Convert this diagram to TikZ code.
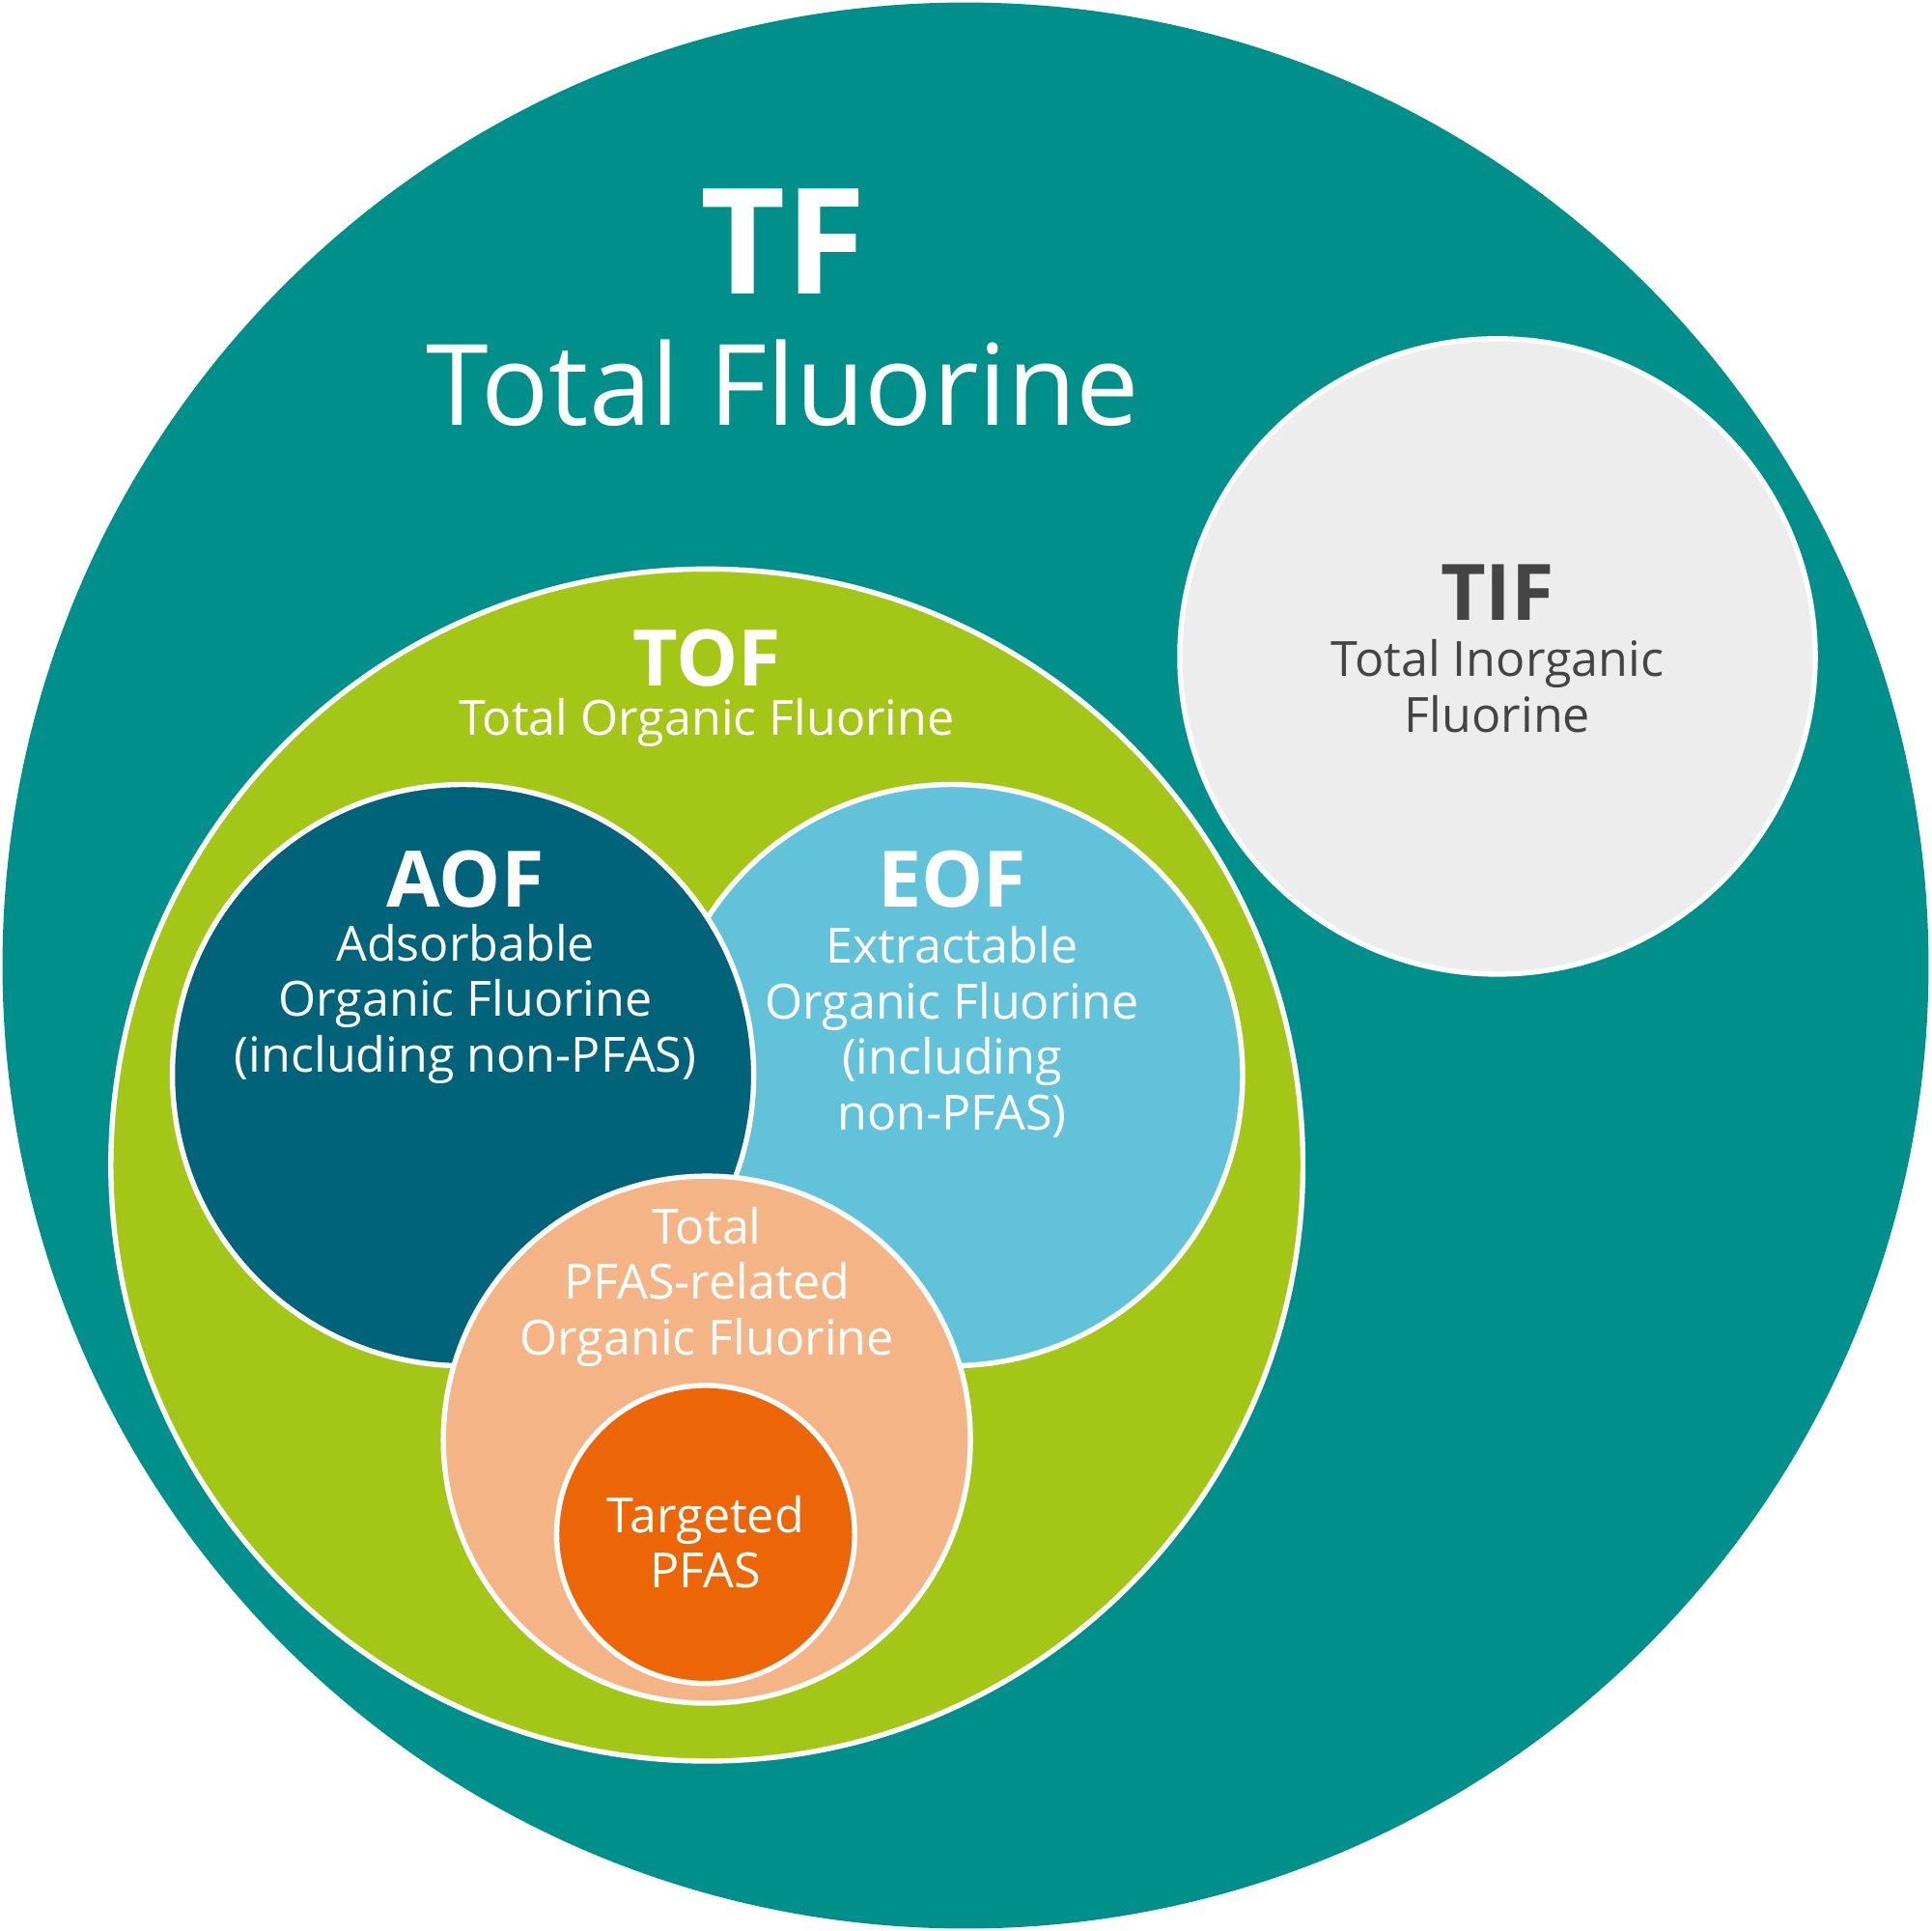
\documentclass[tikz,border=0pt]{standalone}
\usepackage{fontspec}
\setmainfont{Open Sans}
\definecolor{tfteal}{HTML}{008F8A}
\definecolor{tifgrey}{HTML}{EDEDED}
\definecolor{tofgreen}{HTML}{A3C617}
\definecolor{aofblue}{HTML}{00637A}
\definecolor{eofblue}{HTML}{62C2DA}
\definecolor{pfaspeach}{HTML}{F5B486}
\definecolor{targetorange}{HTML}{EC6608}
\definecolor{darktext}{HTML}{444444}

\begin{document}
\begin{tikzpicture}[x=0.01cm,y=-0.01cm,
% circles and their texts
ring/.style={draw=white, line width=1.2pt},
label/.style={text=white, align=center, font=\fontsize{11.2}{12.8}\selectfont},
head/.style={text=white, font=\fontsize{18}{20}\selectfont\bfseries},
]
\useasboundingbox (0,0) rectangle (1568,1568);

% the outer circle
\fill[tfteal] (784,784) circle (782);
\node[text=white, font=\fontsize{34}{36}\selectfont\bfseries] (tf) at (636,196) {TF};
\node[text=white, font=\fontsize{26}{28}\selectfont] (tfl) at (636,311) {Total Fluorine};

% inorganic
\draw[ring, fill=tifgrey] (1216,533) circle (258);
\node[head, text=darktext] (tif) at (1216,481) {TIF};
\node[label, text=darktext] (tifl) at (1216,557) {Total Inorganic\\Fluorine};

% organic
\draw[ring, fill=tofgreen] (574,946) circle (484);
\node[head] (tof) at (574,534) {TOF};
\node[label] (tofl) at (574,587) {Total Organic Fluorine};

\draw[ring, fill=eofblue] (773,873) circle (236);
\draw[ring, fill=aofblue] (376,873) circle (236);
\node[head] (aof) at (378,714) {AOF};
\node[label] (aofl) at (378,815) {Adsorbable\\Organic Fluorine\\(including non-PFAS)};
\node[head] (eof) at (773,714) {EOF};
\node[label] (eofl) at (773,838) {Extractable\\Organic Fluorine\\(including\\non-PFAS)};

% PFAS
\draw[ring, fill=pfaspeach] (574,1169) circle (214);
\node[label] (pfasl) at (574,1045) {Total\\PFAS-related\\Organic Fluorine};
\draw[ring, fill=targetorange] (573,1246) circle (121);
\node[label] (tgt) at (573,1252) {Targeted\\PFAS};
\end{tikzpicture}
\end{document}
